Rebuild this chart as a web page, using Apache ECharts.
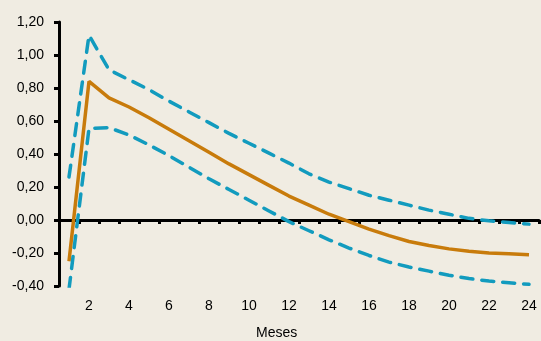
<!DOCTYPE html>
<html><head><meta charset="utf-8">
<script src="https://cdn.jsdelivr.net/npm/echarts@6/dist/echarts.min.js"></script>
<style>html,body{margin:0;padding:0;background:#F0ECE2;}#c{width:541px;height:341px;}</style>
</head><body><div id="c"></div>
<script>
var months = ['1','2','3','4','5','6','7','8','9','10','11','12','13','14','15','16','17','18','19','20','21','22','23','24'];
var central = [-0.25,0.84,0.74,0.685,0.62,0.55,0.48,0.41,0.34,0.275,0.21,0.145,0.09,0.035,-0.01,-0.055,-0.095,-0.13,-0.155,-0.175,-0.19,-0.2,-0.205,-0.21];
var upper = [0.26,1.12,0.91,0.85,0.79,0.72,0.655,0.59,0.525,0.465,0.405,0.345,0.28,0.23,0.19,0.15,0.12,0.09,0.06,0.035,0.01,-0.005,-0.015,-0.025];
var lower = [-0.42,0.555,0.56,0.515,0.455,0.39,0.32,0.25,0.185,0.12,0.055,-0.01,-0.065,-0.12,-0.17,-0.215,-0.255,-0.285,-0.31,-0.335,-0.355,-0.37,-0.38,-0.39];
var xTitle = 'Meses';

var chart = echarts.init(document.getElementById('c'), null, {renderer:'canvas'});
var font = 'Liberation Sans, Arial, sans-serif';
chart.setOption({
  backgroundColor: '#F0ECE2',
  animation: false,
  grid: {left: 59, right: 2, top: 22, bottom: 55},
  xAxis: [{
    type: 'category', data: months, boundaryGap: true,
    axisLine: {onZero: true, lineStyle: {color: '#000', width: 3}},
    axisTick: {show: true, inside: false, length: 4, lineStyle: {color: '#000', width: 3}},
    axisLabel: {show: false}, splitLine: {show: false}
  }, {
    type: 'category', data: months, boundaryGap: true, position: 'bottom',
    axisLine: {show: false, onZero: false}, axisTick: {show: false},
    axisLabel: {show: true, margin: 13, fontSize: 14, fontFamily: font, color: '#000',
      interval: function (i) { return i % 2 === 1; }},
    splitLine: {show: false}
  }],
  yAxis: {
    type: 'value', min: -0.4, max: 1.2, interval: 0.2,
    axisLine: {show: true, lineStyle: {color: '#000', width: 3}},
    axisTick: {show: true, length: 5, lineStyle: {color: '#000', width: 3}},
    axisLabel: {margin: 15, fontSize: 14, fontFamily: font, color: '#000',
      formatter: function (v) { return v.toFixed(2).replace('.', ','); }},
    splitLine: {show: false}
  },
  graphic: [{type: 'text', left: 256, top: 326, style: {text: xTitle, font: '14px ' + font, fill: '#000'}}],
  series: [
    {type: 'line', data: central, symbol: 'none', lineStyle: {color: '#C87B0B', width: 3.5}, z: 3},
    {type: 'line', data: upper, symbol: 'none', lineStyle: {color: '#129BBE', width: 3.5, type: [12, 9], cap: 'round'}, z: 4},
    {type: 'line', data: lower, symbol: 'none', lineStyle: {color: '#129BBE', width: 3.5, type: [12, 9], cap: 'round'}, z: 4}
  ]
});
</script></body></html>
